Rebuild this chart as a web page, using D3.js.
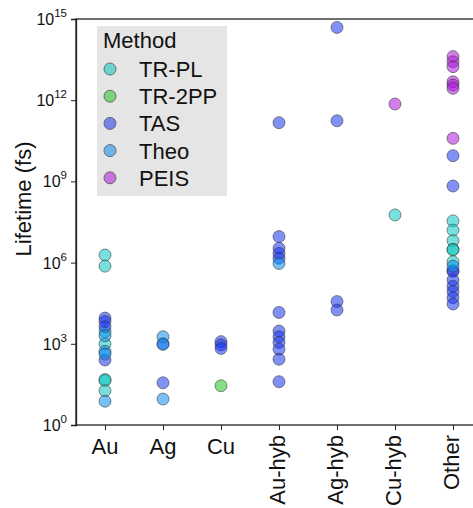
<!DOCTYPE html>
<html><head><meta charset="utf-8">
<script src="https://cdn.jsdelivr.net/npm/d3@7"></script>
<style>body{margin:0;background:#fff}svg{display:block;font-family:"Liberation Sans",Arial,sans-serif}</style>
</head><body><svg id="c" width="473" height="508"></svg>
<script>
const categories = ["Au","Ag","Cu","Au-hyb","Ag-hyb","Cu-hyb","Other"];
const methods = ["TR-PL","TR-2PP","TAS","Theo","PEIS"];
const methodColors = ["#0ac7bf","#22c422","#1835ed","#0a8ced","#aa18d5"];
const yTickExps = [0,3,6,9,12,15];
// log10(lifetime in fs) per category & method
const auTRPL = [6.28,5.87,3.45,3.0,1.68,1.64,1.27];
const auTAS = [3.95,3.82,3.63,2.4];
const auTheo = [3.3,2.72,2.62,0.88];
const agTAS = [3.0,1.56];
const agTheo = [3.26,2.98,0.96];
const cuTAS = [3.08,2.96,2.83];
const cuTR2PP = [1.45];
const auhybTAS = [11.17,6.96,6.53,6.34,6.16,4.16,3.47,3.26,3.05,2.8,2.43,1.6];
const auhybTheo = [5.97];
const aghybTAS = [14.69,11.24,4.56,4.25];
const cuhybPEIS = [11.86];
const cuhybTRPL = [7.76];
const otherPEIS = [13.61,13.42,13.24,12.68,12.56,12.44,10.59];
const otherTAS = [9.95,8.83,5.7,5.68,5.36,5.13,4.93,4.7,4.47];
const otherTRPL = [7.54,7.2,6.81,6.49,6.47,6.03];
const otherTheo = [5.87];

const groups = [
 ["Au","TR-PL",auTRPL],["Au","TAS",auTAS],["Au","Theo",auTheo],
 ["Ag","TAS",agTAS],["Ag","Theo",agTheo],
 ["Cu","TAS",cuTAS],["Cu","TR-2PP",cuTR2PP],
 ["Au-hyb","TAS",auhybTAS],["Au-hyb","Theo",auhybTheo],
 ["Ag-hyb","TAS",aghybTAS],
 ["Cu-hyb","PEIS",cuhybPEIS],["Cu-hyb","TR-PL",cuhybTRPL],
 ["Other","PEIS",otherPEIS],["Other","TAS",otherTAS],["Other","TR-PL",otherTRPL],["Other","Theo",otherTheo]
];
const points = [];
groups.forEach(([c,m,vals])=>vals.forEach(v=>points.push({cat:c,method:m,value:Math.pow(10,v)})));

const svg = d3.select("#c");
const pL=76, pR=482, pT=19, pB=425;
const x = d3.scalePoint().domain(categories).range([105,453]);
const y = d3.scaleLog().domain([1,1e15]).range([pB,pT]);
const color = d3.scaleOrdinal().domain(methods).range(methodColors);
const FS = 22;

// frame
svg.append("rect").attr("x",pL).attr("y",pT).attr("width",pR-pL).attr("height",pB-pT)
  .attr("fill","none").attr("stroke","#222").attr("stroke-width",1.3);

// legend
const lg = svg.append("g");
lg.append("rect").attr("x",97).attr("y",26).attr("width",130).attr("height",170).attr("fill","#e5e5e5");
lg.append("text").attr("x",103).attr("y",48).attr("font-size",FS).attr("fill","#111").text("Method");
methods.forEach((m,i)=>{
  const yy = 69 + i*27.2;
  lg.append("circle").attr("cx",110).attr("cy",yy).attr("r",6).attr("fill",color(m)).attr("fill-opacity",0.55)
    .attr("stroke","#555").attr("stroke-opacity",0.8);
  lg.append("text").attr("x",139).attr("y",yy+8).attr("font-size",FS).attr("fill","#111").text(m);
});

// points
svg.append("g").selectAll("circle").data(points).join("circle")
  .attr("cx",d=>x(d.cat)).attr("cy",d=>y(d.value)).attr("r",6)
  .attr("fill",d=>color(d.method)).attr("fill-opacity",0.55)
  .attr("stroke","#333").attr("stroke-opacity",0.55).attr("stroke-width",1);

// y axis
const yAxis = svg.append("g").attr("transform",`translate(${pL},0)`)
  .call(d3.axisLeft(y).tickValues(yTickExps.map(e=>Math.pow(10,e))).tickSize(5).tickFormat(""));
yAxis.select(".domain").attr("stroke","#222").attr("stroke-width",1.3);
yAxis.selectAll(".tick line").attr("stroke","#222");
yTickExps.forEach(e=>{
  const t = svg.append("text").attr("x",pL-9).attr("y",y(Math.pow(10,e))+6).attr("text-anchor","end")
    .attr("font-size",16).attr("fill","#111");
  t.append("tspan").text("10");
  t.append("tspan").attr("dy",-8).attr("font-size",11.5).text(e);
});
svg.append("text").attr("transform",`translate(31,199) rotate(-90)`).attr("text-anchor","middle")
  .attr("font-size",FS).attr("fill","#111").text("Lifetime (fs)");

// x axis
const xAxis = svg.append("g").attr("transform",`translate(0,${pB})`)
  .call(d3.axisBottom(x).tickSize(5).tickFormat(""));
xAxis.select(".domain").remove();
xAxis.selectAll(".tick line").attr("stroke","#222");
categories.forEach((c,i)=>{
  if(i<3){
    svg.append("text").attr("x",x(c)).attr("y",454).attr("text-anchor","middle").attr("font-size",FS).attr("fill","#111").text(c);
  } else {
    svg.append("text").attr("transform",`translate(${x(c)+6},435) rotate(-90)`).attr("text-anchor","end")
      .attr("font-size",FS).attr("fill","#111").text(c);
  }
});
</script></body></html>
